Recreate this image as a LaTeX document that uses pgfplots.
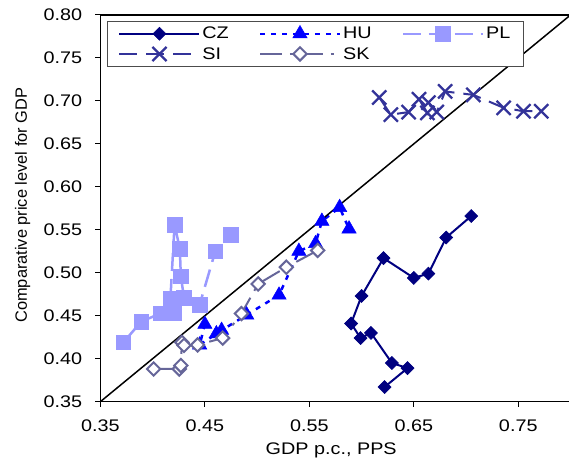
\documentclass[border=0pt]{standalone}
\usepackage{pgfplots}
\pgfplotsset{compat=1.18}
\usepackage{fontspec}
\setmainfont{Liberation Sans}
\newfontfamily\widefont[FakeStretch=1.18]{Liberation Sans}
\definecolor{czc}{HTML}{000080}
\definecolor{huc}{HTML}{0000FF}
\definecolor{plc}{HTML}{9999FF}
\definecolor{sic}{HTML}{333399}
\definecolor{skc}{HTML}{666699}

\begin{document}
\begin{tikzpicture}
\begin{axis}[
  scale only axis, width=470.5bp, height=387bp,
  xmin=0.35, xmax=0.80, ymin=0.35, ymax=0.80,
  xtick={0.35,0.45,0.55,0.65,0.75},
  ytick={0.35,0.40,0.45,0.50,0.55,0.60,0.65,0.70,0.75,0.80},
  tick align=outside, tick pos=left, major tick length=5bp,
  tick style={black, line width=1bp},
  axis line style={black, line width=1.2bp},
  /pgf/number format/.cd, fixed, fixed zerofill, precision=2, assume math mode=true, /pgfplots/.cd,
  xticklabel style={font=\widefont\fontsize{16.8bp}{19bp}\selectfont, anchor=north, inner sep=0pt, yshift=-13bp},
  yticklabel style={font=\widefont\fontsize{16.8bp}{19bp}\selectfont, anchor=east, inner sep=0pt, xshift=-13bp},
  xlabel={GDP p.c., PPS},
  xlabel style={font=\widefont\fontsize{16.8bp}{19bp}\selectfont, at={(axis description cs:0.491,0)}, anchor=base, yshift=-53bp},
  ylabel={Comparative price level for GDP},
  ylabel style={font=\fontsize{16.4bp}{19bp}\selectfont, at={(axis description cs:-0.1566,0.508)}, anchor=base, rotate=0},
  legend columns=3,
  legend style={at={(axis description cs:0.014,0.984)}, anchor=north west,
    draw=black!70, line width=1bp, inner xsep=11bp, inner ysep=3.5bp,
    font=\widefont\fontsize{16.8bp}{19bp}\selectfont, row sep=3bp,
    /tikz/every even column/.append style={column sep=28bp}},
  legend cell align=left,
  legend image code/.code={\draw[mark repeat=2, mark phase=2, #1] plot coordinates {(0bp,0bp) (40bp,0bp) (80bp,0bp)};},
]
% Czech Republic
\addplot[czc, line width=2bp, mark=square*, mark size=4.6bp, mark options={solid, rotate=45, fill=czc, line width=0.6bp}] coordinates {
(0.622,0.367) (0.644,0.389) (0.629,0.395) (0.609,0.430) (0.599,0.424) (0.590,0.441)
(0.600,0.473) (0.621,0.517) (0.650,0.494) (0.664,0.499) (0.681,0.541) (0.705,0.566)};
\addlegendentry{CZ}
% Hungary
\addplot[huc, line width=2.5bp, dash pattern=on 5bp off 6bp, mark=triangle*, mark size=8.3bp, mark options={solid, fill=huc, line width=0.5bp}] coordinates {
(0.450,0.440) (0.445,0.416) (0.461,0.429) (0.466,0.433) (0.490,0.451) (0.521,0.474)
(0.540,0.525) (0.556,0.534) (0.562,0.560) (0.579,0.576) (0.588,0.551)};
\addlegendentry{HU}
% Poland
\addplot[plc, line width=2.5bp, dash pattern=on 18bp off 8bp, mark=square*, mark size=7.3bp, mark options={solid, fill=plc, line width=0.5bp}] coordinates {
(0.372,0.419) (0.389,0.443) (0.408,0.453) (0.420,0.453) (0.417,0.470) (0.421,0.556)
(0.426,0.528) (0.427,0.496) (0.430,0.471) (0.445,0.463) (0.460,0.525) (0.475,0.544)};
\addlegendentry{PL}
% Slovenia
\addplot[sic, line width=2bp, dash pattern=on 18bp off 9bp, mark=x, mark size=10bp, mark options={solid, line width=2.3bp}] coordinates {
(0.617,0.704) (0.628,0.684) (0.645,0.687) (0.655,0.702) (0.663,0.686) (0.664,0.698)
(0.672,0.687) (0.680,0.711) (0.707,0.707) (0.736,0.692) (0.755,0.688) (0.772,0.688)};
\addlegendentry{SI}
% Slovakia
\addplot[skc, line width=2bp, dash pattern=on 22bp off 8bp on 3bp off 8bp, mark=square*, mark size=4.7bp, mark options={solid, rotate=45, fill=white, line width=2bp}] coordinates {
(0.401,0.388) (0.4255,0.388) (0.427,0.392) (0.428,0.419) (0.430,0.4155) (0.443,0.416)
(0.467,0.424) (0.485,0.4525) (0.501,0.487) (0.528,0.5065) (0.558,0.526)};
\addlegendentry{SK}
% 45 degree line
\addplot[black, line width=1.5bp, forget plot] coordinates {(0.35,0.35) (0.80,0.80)};
\coordinate (sw) at (rel axis cs:0,0);
\coordinate (ne) at (rel axis cs:1,1);
\end{axis}
\pgfresetboundingbox
\path[use as bounding box] ([xshift=-100.5bp,yshift=-57bp]sw) rectangle ([xshift=-1.5bp,yshift=15bp]ne);
\end{tikzpicture}
\end{document}
